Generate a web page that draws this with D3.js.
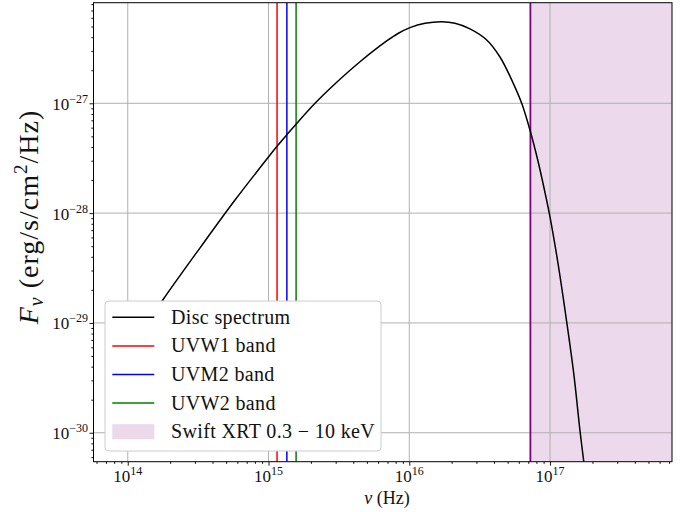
<!DOCTYPE html>
<html><head><meta charset="utf-8">
<script src="https://cdn.jsdelivr.net/npm/d3@7"></script>
<style>
body{margin:0;background:#fff;}
text{font-family:"Liberation Serif","DejaVu Serif",serif;fill:#111;}
</style></head>
<body><svg id="c" width="696" height="512"></svg>
<script>
// ---- data ----
const nu = [1.00e14,1.773e14,3.263e14,5.78e14,1.025e15,1.149e15,1.347e15,1.568e15,2.140e15,3.051e15,4.466e15,6.911e15,8.314e15,1.012e16,1.293e16,1.699e16,2.112e16,2.699e16,3.546e16,4.408e16,5.478e16,6.317e16,7.198e16,8.207e16,9.352e16,9.98e16,1.138e17,1.312e17,1.478e17,1.631e17,1.770e17];
const fnu = [5.43e-30,1.617e-29,4.83e-29,1.316e-28,3.38e-28,4.06e-28,5.16e-28,6.45e-28,1.00e-27,1.553e-27,2.388e-27,3.693e-27,4.322e-27,4.890e-27,5.353e-27,5.535e-27,5.353e-27,4.759e-27,3.771e-27,2.640e-27,1.520e-27,9.85e-28,5.71e-28,2.98e-28,1.402e-28,9.31e-29,3.512e-29,1.030e-29,3.352e-30,1.047e-30,4.48e-31];
const bandNames = ["UVW1 band","UVM2 band","UVW2 band"];
const bandNu = [1.15e15,1.35e15,1.57e15];
const bandColors = ["#ff0000","#0000ff","#008000"];
const xrtRange = [7.25e16, 2.42e18];  // 0.3 - 10 keV
const xMajor = [1e14,1e15,1e16,1e17];
const xMajorExp = ["14","15","16","17"];
const yMajor = [1e-30,1e-29,1e-28,1e-27];
const yMajorExp = ["\u221230","\u221229","\u221228","\u221227"];
const xDomain = [5.71e13, 7.35e17];
const yDomain = [5.45e-31, 8.24e-27];

const svg = d3.select("#c");
const L=93.5, R=672, T=2.7, B=461.7;
const x = d3.scaleLog().domain(xDomain).range([L,R]);
const y = d3.scaleLog().domain(yDomain).range([B,T]);

function minors(dom){
  const out=[]; const lo=Math.floor(Math.log10(dom[0])), hi=Math.ceil(Math.log10(dom[1]));
  for(let e=lo;e<=hi;e++) for(let m=2;m<=9;m++){const v=m*Math.pow(10,e); if(v>=dom[0]&&v<=dom[1]) out.push(v);}
  return out;
}

svg.append("defs").append("clipPath").attr("id","clip").append("rect")
  .attr("x",L).attr("y",T).attr("width",R-L).attr("height",B-T);
const plot = svg.append("g").attr("clip-path","url(#clip)");

// XRT span
plot.append("rect").attr("x",x(xrtRange[0])).attr("y",T)
  .attr("width",x(xrtRange[1])-x(xrtRange[0])).attr("height",B-T)
  .attr("fill","#800080").attr("fill-opacity",0.15);

// grid
plot.selectAll(".gx").data(xMajor).join("line")
  .attr("x1",d=>x(d)).attr("x2",d=>x(d)).attr("y1",T).attr("y2",B)
  .attr("stroke","#b0b0b0").attr("stroke-width",1);
plot.selectAll(".gy").data(yMajor).join("line")
  .attr("y1",d=>y(d)).attr("y2",d=>y(d)).attr("x1",L).attr("x2",R)
  .attr("stroke","#b0b0b0").attr("stroke-width",1);

// band lines
plot.selectAll(".band").data(bandNu).join("line")
  .attr("x1",d=>x(d)).attr("x2",d=>x(d)).attr("y1",T).attr("y2",B)
  .attr("stroke",(d,i)=>bandColors[i]).attr("stroke-width",1.5);
plot.append("line").attr("x1",x(xrtRange[0])).attr("x2",x(xrtRange[0])).attr("y1",T).attr("y2",B)
  .attr("stroke","#800080").attr("stroke-width",1.8);

// curve
const line = d3.line().x(d=>x(d[0])).y(d=>y(d[1])).curve(d3.curveCatmullRom.alpha(0.5));
plot.append("path").datum(nu.map((v,i)=>[v,fnu[i]])).attr("d",line)
  .attr("fill","none").attr("stroke","#000").attr("stroke-width",1.5);

// axes
const xa = svg.append("g").attr("transform",`translate(0,${B})`);
xa.call(d3.axisBottom(x).tickValues(xMajor).tickSize(4).tickFormat(()=>""));
const xm = svg.append("g").attr("transform",`translate(0,${B})`);
xm.call(d3.axisBottom(x).tickValues(minors(xDomain)).tickSize(2.2).tickFormat(()=>""));
const ya = svg.append("g").attr("transform",`translate(${L},0)`);
ya.call(d3.axisLeft(y).tickValues(yMajor).tickSize(4).tickFormat(()=>""));
const ym = svg.append("g").attr("transform",`translate(${L},0)`);
ym.call(d3.axisLeft(y).tickValues(minors(yDomain)).tickSize(2.2).tickFormat(()=>""));
[xa,xm,ya,ym].forEach(g=>{g.select(".domain").remove(); g.selectAll("line").attr("stroke","#000").attr("stroke-width",0.9);});

// tick labels
xMajor.forEach((v,i)=>{
  const t = svg.append("text").attr("x",x(v)).attr("y",482).attr("text-anchor","middle").attr("font-size",17);
  t.append("tspan").text("10");
  t.append("tspan").attr("dy",-7).attr("font-size",12).text(xMajorExp[i]);
});
yMajor.forEach((v,i)=>{
  const t = svg.append("text").attr("x",88).attr("y",y(v)+6.5).attr("text-anchor","end").attr("font-size",17);
  t.append("tspan").text("10");
  t.append("tspan").attr("dy",-7).attr("font-size",12).text(yMajorExp[i]);
});

// frame
svg.append("rect").attr("x",L).attr("y",T).attr("width",R-L).attr("height",B-T)
  .attr("fill","none").attr("stroke","#000").attr("stroke-width",1);

// axis labels
const xl = svg.append("text").attr("x",387).attr("y",504).attr("text-anchor","middle").attr("font-size",18);
xl.append("tspan").attr("font-style","italic").text("\u03bd");
xl.append("tspan").text(" (Hz)");
const yl = svg.append("text").attr("transform","translate(38,217) rotate(-90)").attr("text-anchor","middle")
  .attr("font-size",28).attr("letter-spacing",1);
yl.append("tspan").attr("font-style","italic").text("F");
yl.append("tspan").attr("font-style","italic").attr("font-size",20).attr("dy",5).text("\u03bd");
yl.append("tspan").attr("dy",-5).text(" (erg/s/cm");
yl.append("tspan").attr("font-size",19).attr("dy",-11).text("2");
yl.append("tspan").attr("dy",11).text("/Hz)");

// legend
const lg = svg.append("g");
lg.append("rect").attr("x",105).attr("y",301).attr("width",276).attr("height",150).attr("rx",4)
  .attr("fill","#fff").attr("stroke","#cccccc").attr("stroke-width",1);
const items = [{name:"Disc spectrum",color:"#000",type:"line"}]
  .concat(bandNames.map((n,i)=>({name:n,color:bandColors[i],type:"line"})))
  .concat([{name:"Swift XRT 0.3 \u2212 10 keV",color:"#800080",type:"patch"}]);
items.forEach((it,i)=>{
  const cy = 317.3 + i*28.6;
  if(it.type==="line"){
    lg.append("line").attr("x1",112.3).attr("x2",154.3).attr("y1",cy).attr("y2",cy)
      .attr("stroke",it.color).attr("stroke-width",1.5);
  } else {
    lg.append("rect").attr("x",112.3).attr("y",cy-7.5).attr("width",42).attr("height",15)
      .attr("fill",it.color).attr("fill-opacity",0.15);
  }
  lg.append("text").attr("x",171).attr("y",cy+6.5).attr("font-size",20).attr("letter-spacing",0.35).text(it.name);
});
</script></body></html>
